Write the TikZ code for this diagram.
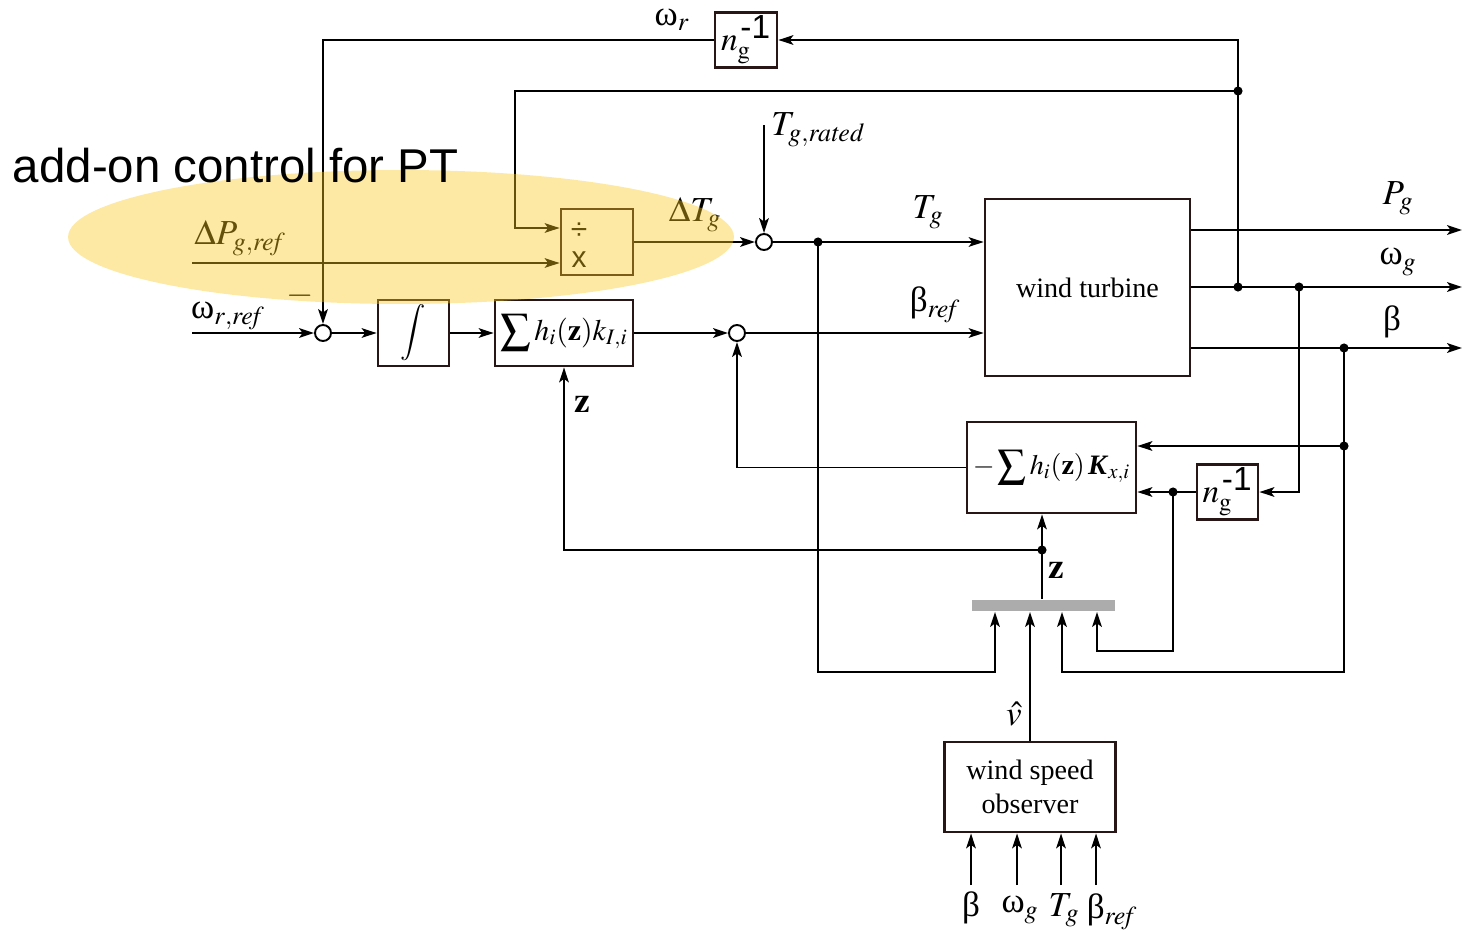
\documentclass[tikz,border=0pt]{standalone}
\usepackage{mathptmx}
\usepackage{fontspec}
\setmainfont{Liberation Serif}
\setsansfont{Liberation Sans}
\usetikzlibrary{arrows.meta, calc, positioning}

\definecolor{hilite}{RGB}{250,200,25}
\definecolor{boxcol}{RGB}{40,22,22}

\tikzset{
  blk/.style={draw=boxcol, line width=1.6pt, fill=white, inner sep=2pt, font=\fontsize{16}{19}\selectfont},
  sumc/.style={circle, draw, line width=1.1pt, fill=white, minimum size=0.32cm, inner sep=0pt},
  lbl/.style={inner sep=1pt, font=\fontsize{20}{22}\selectfont},
}
\newcommand{\ngain}{$n_{\mathrm{g}}^{\,\textsf{-1}}$}

\begin{document}
\begin{tikzpicture}[x=0.02cm, y=-0.02cm, >={Stealth[length=8.5pt,width=5.5pt,inset=2pt]}, line width=1.1pt]
    \useasboundingbox (0,0) rectangle (1464,937);

    % blocks
    \node[blk, minimum width=1.24cm, minimum height=1.1cm, font=\fontsize{19}{21}\selectfont] (ngtop) at (746,40) {\ngain};
    \node[blk, minimum width=1.44cm, minimum height=1.32cm] (divbox) at (597,242) {};
    \node[font=\sffamily\fontsize{17}{18}\selectfont] (divsym) at (579,231) {÷};
    \node[font=\sffamily\fontsize{17}{18}\selectfont] (mulsym) at (579,260) {x};
    \node[sumc] (sum0) at (323,333) {};
    \node[blk, minimum width=1.42cm, minimum height=1.32cm] (intbox) at (413.5,333) {$\displaystyle\int$};
    \node[blk, minimum width=2.76cm, minimum height=1.32cm, font=\fontsize{17}{19}\selectfont] (kibox) at (564,333) {$\displaystyle\sum h_i(\mathbf{z})k_{I,i}$};
    \node[sumc] (sum1) at (764,242) {};
    \node[sumc] (sum2) at (737,333) {};
    \node[blk, minimum width=4.1cm, minimum height=3.54cm] (turbine) at (1087.5,287.5) {wind turbine};
    \node[blk, minimum width=3.38cm, minimum height=1.82cm, inner sep=1pt, font=\fontsize{16}{19}\selectfont] (kxbox) at (1051.5,467.5) {$-\displaystyle\sum h_i(\mathbf{z})\,$\textbf{\textit{K}}$_{x,i}$};
    \node[blk, minimum width=1.22cm, minimum height=1.1cm, font=\fontsize{19}{21}\selectfont] (ngbox) at (1227.5,492) {\ngain};
    \node[fill=gray!65, minimum width=2.86cm, minimum height=0.22cm, inner sep=0pt] (bar) at (1043.5,605.5) {};
    \node[blk, minimum width=3.42cm, minimum height=1.8cm, align=center] (observer) at (1030,787) {wind speed\\observer};

    % junctions and free ends
    \coordinate (j1) at (1238,287);
    \coordinate (j2) at (1238,91);
    \coordinate (j3) at (1299,287);
    \coordinate (j4) at (1344,348);
    \coordinate (j5) at (1344,446);
    \coordinate (j6) at (1173,492);
    \coordinate (j7) at (818,242);
    \coordinate (j8) at (1042,550);
    \coordinate (k1) at (515,228);
    \coordinate (dpin) at (192,263);
    \coordinate (wref) at (192,333);
    \coordinate (tgr) at (764,125);
    \coordinate (pgout) at (1462,230);
    \coordinate (wgout) at (1462,287);
    \coordinate (bout) at (1462,348);
    \coordinate (b1) at (995,672);
    \coordinate (b3) at (1062,672);
    \coordinate (b4) at (1097,651);

    % connectors
    \draw[->] (j1) |- (ngtop.east);
    \draw[->] (ngtop.west) -| (sum0.north);
    \draw[->] (j2) -| (k1) -- (divbox.west |- k1);
    \draw[->] (dpin) -- (divbox.west |- dpin);
    \draw[->] (divbox.east) -- (sum1.west);
    \draw[->] (tgr) -- (sum1.north);
    \draw[->] (sum1.east) -- (sum1 -| turbine.west);
    \draw[->] (wref) -- (sum0.west);
    \draw[->] (sum0.east) -- (intbox.west);
    \draw[->] (intbox.east) -- (kibox.west);
    \draw[->] (kibox.east) -- (sum2.west);
    \draw[->] (sum2.east) -- (sum2 -| turbine.west);
    \draw[->] (turbine.east |- pgout) -- (pgout);
    \draw[->] (turbine.east |- wgout) -- (wgout);
    \draw[->] (turbine.east |- bout) -- (bout);
    \draw[->] (kxbox.west) -| (sum2.south);
    \draw[->] (j4) -- (j5) -- (j5 -| kxbox.east);
    \draw[->] (j3) |- (ngbox.east);
    \draw[->] (ngbox.west) -- (ngbox.west -| kxbox.east);
    \draw[->] (j5) |- (b3) -- (b3 |- bar.south);
    \draw[->] (j6) |- (b4) -- (b4 |- bar.south);
    \draw[->] (j7) |- (b1) -- (b1 |- bar.south);
    \draw[->] (observer.north) -- (observer.north |- bar.south);
    \draw[->] (j8 |- bar.north) -- (j8 |- kxbox.south);
    \draw[->] (j8) -| (kibox.south);
    \foreach \xx/\nm in {971/ob1, 1017/ob2, 1061/ob3, 1096/ob4} {
        \coordinate (\nm) at (\xx,885);
        \draw[->] (\nm) -- (\nm |- observer.south);
    }
    \foreach \jn in {j1, j2, j3, j4, j5, j6, j7, j8}
        \fill (\jn) circle (2.6pt);

    % labels
    \node[lbl] (lwr) at (672,20) {ω$_r$};
    \node[lbl] (ltgr) at (818,130) {$T_{\mathit{g,rated}}$};
    \node[lbl] (ldtg) at (695,215) {$\Delta T_g$};
    \node[lbl] (ldpg) at (240,238) {$\Delta P_{\mathit{g,ref}}$};
    \node[lbl] (lwrref) at (228,316) {ω$_{\mathit{r,ref}}$};
    \node[lbl] (lminus) at (300,296) {$-$};
    \node[lbl] (ltg) at (928,212) {$T_g$};
    \node[lbl] (lbref) at (935,305) {β$_{\mathit{ref}}$};
    \node[lbl] (lpg) at (1398,198) {$P_g$};
    \node[lbl] (lwg) at (1398,262) {ω$_g$};
    \node[lbl] (lb) at (1392,322) {β};
    \node[lbl] (lz1) at (582,404) {$\mathbf{z}$};
    \node[lbl] (lz2) at (1056,570) {$\mathbf{z}$};
    \node[lbl] (lvhat) at (1014,714) {$\hat{v}$};
    \node[lbl] (lob1) at (971,908) {β};
    \node[lbl] (lob2) at (1020,910) {ω$_g$};
    \node[lbl] (lob3) at (1064,910) {$T_g$};
    \node[lbl] (lob4) at (1112,912) {β$_{\mathit{ref}}$};

    % highlight
    \fill[hilite, fill opacity=0.4] (401,237) ellipse [x radius=6.66cm, y radius=1.34cm];
    \node[anchor=base west, inner sep=0pt, font=\sffamily\fontsize{27}{30}\selectfont] (addon) at (12,182) {add-on control for PT};
\end{tikzpicture}
\end{document}
